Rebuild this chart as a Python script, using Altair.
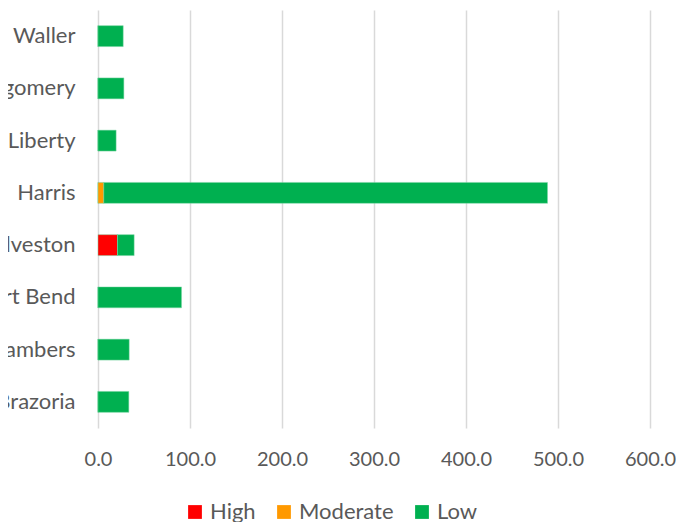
import altair as alt
import pandas as pd

counties = ["Waller", "Montgomery", "Liberty", "Harris", "Galveston", "Fort Bend", "Chambers", "Brazoria"]
high = [0, 0, 0, 0, 21.2, 0, 0, 0]
moderate = [0, 0, 0, 6.3, 0, 0, 0, 0]
low = [27.4, 28.1, 19.7, 482.3, 18.1, 90.8, 33.9, 33.5]
levels = ["High", "Moderate", "Low"]
colors = ["#FF0000", "#FF9900", "#00B050"]

rows = []
for i, c in enumerate(counties):
    for k, (lvl, vals) in enumerate(zip(levels, [high, moderate, low])):
        rows.append({"County": c, "Level": lvl, "Value": vals[i], "ord": k})
df = pd.DataFrame(rows)

font = "Lato"
chart = alt.Chart(df).mark_bar(stroke="#7fd8a6", strokeWidth=0.8, strokeOpacity=0.6).encode(
    y=alt.Y("County:N", sort=counties, title=None,
            scale=alt.Scale(paddingInner=0.6, paddingOuter=0.3),
            axis=alt.Axis(domain=False, ticks=False, grid=False, labelPadding=23,
                          labelFontSize=22, labelFont=font, labelColor="#595959")),
    x=alt.X("Value:Q", stack="zero", title=None,
            scale=alt.Scale(domain=[0, 600], nice=False),
            axis=alt.Axis(values=[0, 100, 200, 300, 400, 500, 600], format=".1f",
                          domain=False, ticks=False, grid=True, gridColor="#d9d9d9",
                          gridWidth=1.5, labelPadding=21, labelFontSize=20, labelFont=font,
                          labelColor="#595959", labelOverlap=False, labelBound=False,
                          labelFlush=False)),
    color=alt.Color("Level:N", sort=levels,
                    scale=alt.Scale(domain=levels, range=colors),
                    legend=alt.Legend(title=None, orient="none", direction="horizontal",
                                      legendX=86, legendY=491, symbolType="square",
                                      symbolSize=190, symbolStrokeWidth=0, labelFontSize=22,
                                      labelFont=font, labelColor="#595959", labelOffset=4,
                                      columnPadding=17, padding=0)),
    order=alt.Order("ord:Q"),
).properties(
    width=552, height=418,
    autosize=alt.AutoSizeParams(type="none"),
    padding={"left": 90, "top": 2, "right": 26, "bottom": 94},
).configure_view(stroke=None)

chart.save("out.html", embed_options={"renderer": "svg", "actions": False})
